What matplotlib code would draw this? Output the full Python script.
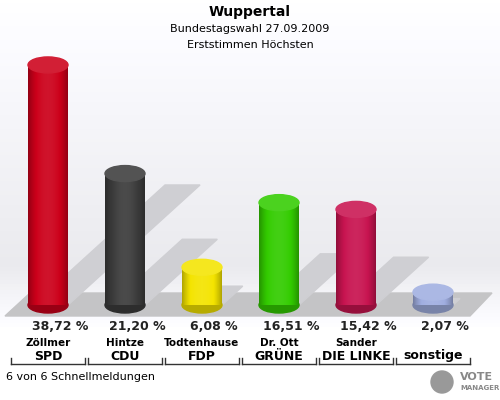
import matplotlib
matplotlib.use('Agg')
import matplotlib.pyplot as plt
import numpy as np
from matplotlib.patches import Polygon, Ellipse, Rectangle

candidates = ['Zöllmer', 'Hintze', 'Todtenhause', 'Dr. Ott', 'Sander', '']
parties = ['SPD', 'CDU', 'FDP', 'GRÜNE', 'DIE LINKE', 'sonstige']
values = [38.72, 21.20, 6.08, 16.51, 15.42, 2.07]
colors = ['#cc001a', '#3c3c3c', '#f4e400', '#33cc00', '#c81450', '#a0aee0']

PX = 6.2        # pixels per percent
BASE = 305      # cylinder bottom (pixel y)
W = 40          # cylinder width
EH = 16         # ellipse height

fig = plt.figure(figsize=(5, 4), dpi=100)
ax = fig.add_axes([0, 0, 1, 1])
ax.set_xlim(0, 500)
ax.set_ylim(400, 0)
ax.axis('off')

# background gradient, fading back to white under the floor
g = np.concatenate([np.linspace(1.0, 0.92, 80), np.linspace(0.92, 1.0, 20)])
bg = g[:, None, None] * np.ones((1, 1, 3))
bg[..., 2] = np.minimum(bg[..., 2] + 0.015, 1)
ax.imshow(bg, extent=(0, 500, 330, 0), aspect='auto', zorder=0)

# floor
ax.add_patch(Polygon([(5, 316), (470, 316), (492, 293), (30, 293)], closed=True,
                     color='#c4c4c6', zorder=1))

xs = [48 + i * 77 for i in range(len(values))]

def shade(c, f):
    c = np.array(matplotlib.colors.to_rgb(c))
    return np.clip(c * f if f < 1 else c + (1 - c) * (f - 1), 0, 1)

for x, v, c in zip(xs, values, colors):
    h = v * PX
    top = BASE - h
    # shadow
    dx, dy = 0.55 * h, 0.5 * h
    ax.add_patch(Polygon([(x - W / 2 + 5, BASE), (x + W / 2, BASE),
                          (x + W / 2 + dx, BASE - dy),
                          (x - W / 2 + 5 + dx, BASE - dy)],
                         closed=True, color='#cfcfd3', zorder=2))
    body = Rectangle((x - W / 2, top), W, h, facecolor='none', edgecolor='none', zorder=3)
    ax.add_patch(body)
    t = np.linspace(0, 1, 60)
    prof = 0.6 + 0.55 * np.sin(np.pi * (t * 0.9 + 0.05)) ** 0.8
    img = np.array([[shade(c, p) if p <= 1 else shade(c, 1 + (p - 1) * 0.5) for p in prof]])
    im = ax.imshow(img, extent=(x - W / 2, x + W / 2, BASE, top), aspect='auto', zorder=3.5,
                   interpolation='bilinear')
    im.set_clip_path(body)
    ax.add_patch(Ellipse((x, BASE), W, EH, color=shade(c, 0.75), zorder=3.4))
    ax.add_patch(Ellipse((x, top), W, EH, color=shade(c, 1.12), zorder=4))

    ax.text(x + 12, 327, f'{v:.2f} %'.replace('.', ','), ha='center', va='center',
            fontsize=9, fontweight='bold', color='#222222')

for i, (x, cand, p) in enumerate(zip(xs, candidates, parties)):
    ax.text(x, 343, cand, ha='center', va='center', fontsize=7.5, fontweight='bold')
    ax.text(x, 356, p, ha='center', va='center', fontsize=9, fontweight='bold')
    ax.plot([x - 37, x + 37], [364, 364], color='#333333', lw=1)
    ax.plot([x - 37, x - 37], [358, 364], color='#333333', lw=1)
    ax.plot([x + 37, x + 37], [358, 364], color='#333333', lw=1)

ax.text(250, 12, 'Wuppertal', ha='center', va='center', fontsize=10, fontweight='bold')
ax.text(250, 29, 'Bundestagswahl 27.09.2009', ha='center', va='center', fontsize=8)
ax.text(250, 45, 'Erststimmen Höchsten', ha='center', va='center', fontsize=8)
ax.text(6, 377, '6 von 6 Schnellmeldungen', ha='left', va='center', fontsize=8)
ax.text(460, 377, 'VOTE', ha='left', va='center', fontsize=8, fontweight='bold', color='#888888')
ax.text(460, 388, 'MANAGER', ha='left', va='center', fontsize=5, fontweight='bold', color='#888888')
ax.add_patch(Ellipse((442, 382), 22, 22, color='#999999', zorder=2))

fig.savefig('out.png', dpi=100, facecolor='white')
